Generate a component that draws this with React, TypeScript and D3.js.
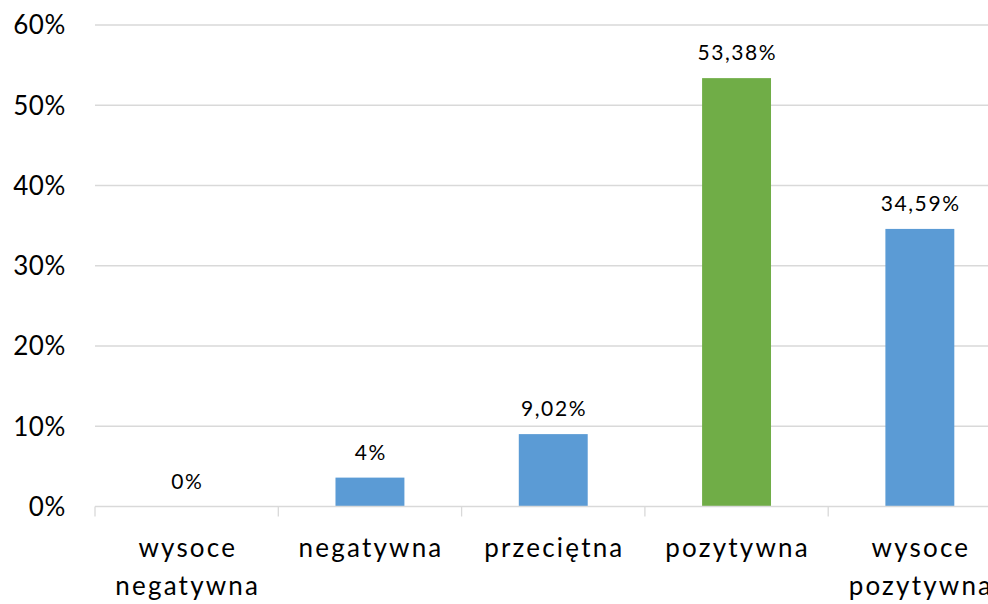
import React from "react";
import * as d3 from "d3";

const categories: string[][] = [
  ["wysoce", "negatywna"],
  ["negatywna"],
  ["przeciętna"],
  ["pozytywna"],
  ["wysoce", "pozytywna"],
];
const values: number[] = [0, 3.6, 9.02, 53.38, 34.59];
const valueLabels: string[] = ["0%", "4%", "9,02%", "53,38%", "34,59%"];
const barColors: string[] = ["#5B9BD5", "#5B9BD5", "#5B9BD5", "#70AD47", "#5B9BD5"];
const yTicks: number[] = [0, 10, 20, 30, 40, 50, 60];

const W = 988;
const H = 604;
const FONT = "Lato, 'Open Sans', sans-serif";

export default function App() {
  const x = d3
    .scaleBand<number>()
    .domain(d3.range(categories.length))
    .range([95, 1011.5])
    .padding(0);
  const y = d3.scaleLinear().domain([0, 60]).range([506.5, 25]);
  const step = x.step();
  const barW = step * 0.376;

  return (
    <svg
      width={W}
      height={H}
      style={{ position: "absolute", left: 0, top: 0, background: "#fff" }}
    >
      {yTicks.map((t) => (
        <g key={t}>
          {t > 0 && (
            <line
              x1={95}
              x2={W}
              y1={y(t)}
              y2={y(t)}
              stroke="#D9D9D9"
              strokeWidth={1.3}
            />
          )}
          <text
            x={66}
            y={y(t)}
            dy="0.36em"
            textAnchor="end"
            fontFamily={FONT}
            fontSize={26}
            letterSpacing={0.6}
            fill="#000"
          >
            {t}%
          </text>
        </g>
      ))}
      {values.map((v, i) => {
        const cx = (x(i) as number) + step / 2;
        return (
          <g key={i}>
            {v > 0 && (
              <rect
                x={cx - barW / 2}
                y={y(v)}
                width={barW}
                height={y(0) - y(v)}
                fill={barColors[i]}
              />
            )}
            <text
              x={cx + 0.8}
              y={y(v) - 18}
              textAnchor="middle"
              fontFamily={FONT}
              fontSize={21}
              letterSpacing={1.6}
              fill="#000"
            >
              {valueLabels[i]}
            </text>
            {categories[i].map((line, j) => (
              <text
                key={j}
                x={cx + 1.1}
                y={557 + j * 38}
                textAnchor="middle"
                fontFamily={FONT}
                fontSize={26}
                letterSpacing={2.2}
                fill="#000"
              >
                {line}
              </text>
            ))}
          </g>
        );
      })}
      <line x1={95} x2={W} y1={y(0)} y2={y(0)} stroke="#D9D9D9" strokeWidth={1.3} />
      {d3.range(categories.length + 1).map((i) => (
        <line
          key={i}
          x1={95 + i * step}
          x2={95 + i * step}
          y1={y(0)}
          y2={y(0) + 10}
          stroke="#D9D9D9"
          strokeWidth={1.3}
        />
      ))}
    </svg>
  );
}
